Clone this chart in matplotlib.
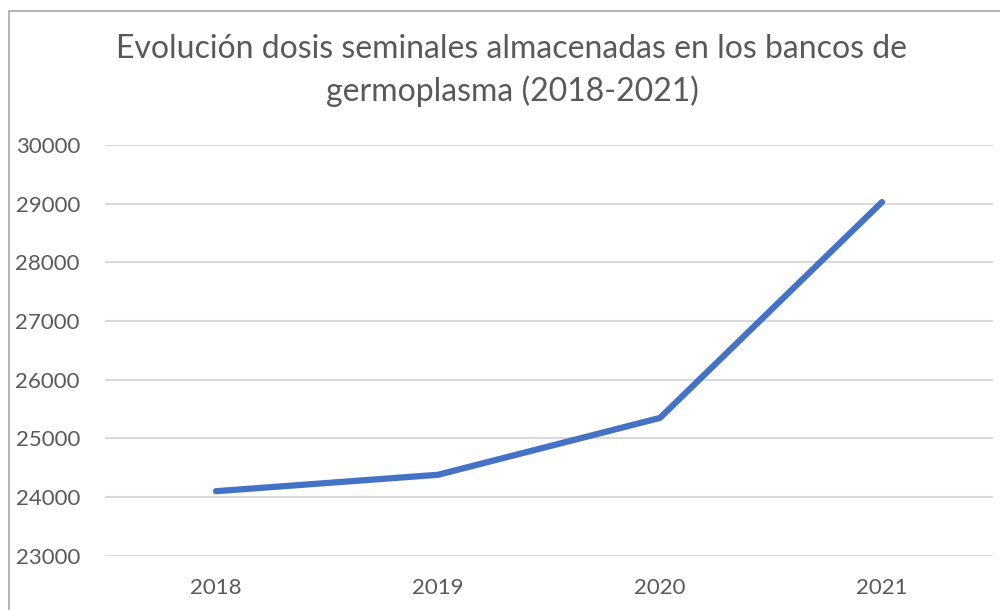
import matplotlib.pyplot as plt
from matplotlib.patches import Rectangle

years = ["2018", "2019", "2020", "2021"]
dosis = [24100, 24380, 25350, 29030]
yticks = [23000, 24000, 25000, 26000, 27000, 28000, 29000, 30000]

TEXT = "#595959"
GRID = "#D9D9D9"
LINE = "#4472C4"

plt.rcParams['font.family'] = ['Lato', 'DejaVu Sans']

fig = plt.figure(figsize=(10, 6.1), dpi=100)
ax = fig.add_axes([0.105, 0.089, 0.888, 0.673])

x = range(len(years))
ax.plot(x, dosis, color=LINE, linewidth=4.5, solid_capstyle='round',
        solid_joinstyle='round', zorder=3)

ax.set_xlim(-0.5, len(years) - 0.5)
ax.set_ylim(yticks[0], yticks[-1])
ax.set_xticks(list(x))
ax.set_xticklabels(years)
ax.set_yticks(yticks)
ax.set_yticklabels([str(v) for v in yticks])
ax.grid(axis='y', color=GRID, linewidth=1.5)
ax.set_axisbelow(True)
for s in ax.spines.values():
    s.set_visible(False)
ax.tick_params(length=0, labelsize=16, colors=TEXT)
ax.tick_params(axis='y', pad=18)
ax.tick_params(axis='x', pad=16)

fig.text(0.512, 0.885,
         "Evolución dosis seminales almacenadas en los bancos de\ngermoplasma (2018-2021)",
         ha='center', va='center', fontsize=23, color=TEXT, linespacing=1.45)

# chart frame
fig.patches.append(Rectangle((0.009, -0.1), 1.2, 1.082, transform=fig.transFigure,
                             fill=False, edgecolor="#A6A6A6", linewidth=1.2))

fig.savefig("out.png", dpi=100)
